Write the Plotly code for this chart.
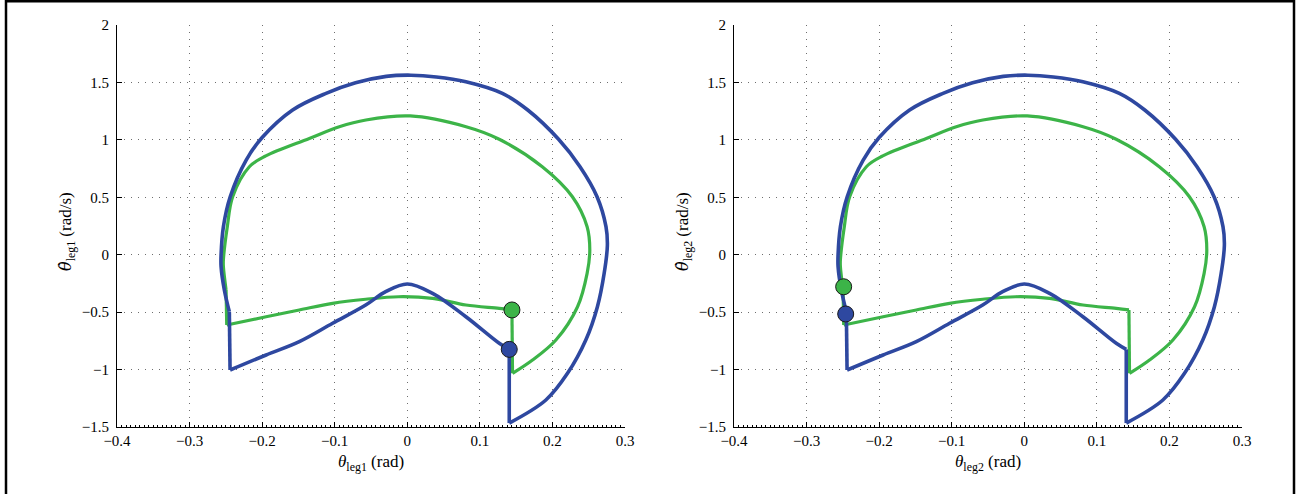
import plotly.graph_objects as go

# ---------------- data ----------------
# blue trajectory
blue_drop_x = [0.1405, 0.1405]
blue_drop_y = [-0.824, -1.466]
blue_loop_x = [0.1405, 0.191, 0.2208, 0.246, 0.262, 0.2713, 0.2757, 0.2738, 0.2615, 0.238,
               0.2085, 0.166, 0.131, 0.0808, 0.04, 0.005, -0.029, -0.0713, -0.112, -0.158,
               -0.2, -0.222, -0.244, -0.2534, -0.2566, -0.2566, -0.2521, -0.2452]
blue_loop_y = [-1.466, -1.265, -1.033, -0.743, -0.453, -0.162, 0.08, 0.244, 0.505, 0.766,
               1.005, 1.26, 1.405, 1.506, 1.548, 1.563, 1.553, 1.497, 1.405, 1.26,
               1.02, 0.824, 0.505, 0.244, 0.0, -0.104, -0.307, -0.496]
blue_side_x = [-0.2452, -0.2442]
blue_side_y = [-0.496, -1.004]
blue_ret_x = [-0.2442, -0.1945, -0.1488, -0.1029, -0.0573, -0.0298, 0.0, 0.0349, 0.0808, 0.1267, 0.1405]
blue_ret_y = [-1.004, -0.873, -0.757, -0.597, -0.438, -0.322, -0.255, -0.336, -0.54, -0.771, -0.824]

# green trajectory
green_drop_x = [0.1442, 0.145]
green_drop_y = [-0.481, -1.033]
green_loop_x = [0.145, 0.1726, 0.2048, 0.2346, 0.2478, 0.2515, 0.2478, 0.2275, 0.186, 0.1267,
                0.081, 0.004, -0.057, -0.0937, -0.135, -0.195, -0.2176, -0.2406, -0.248,
                -0.2534, -0.2534, -0.2497]
green_loop_y = [-1.033, -0.917, -0.743, -0.453, -0.162, 0.04, 0.244, 0.505, 0.766, 1.005,
                1.114, 1.208, 1.173, 1.114, 1.012, 0.86, 0.766, 0.505, 0.244,
                -0.046, -0.104, -0.307]
green_side_x = [-0.2497, -0.2488]
green_side_y = [-0.307, -0.612]
green_ret_x = [-0.2488, -0.1945, -0.1488, -0.1029, -0.0573, -0.012, 0.0349, 0.0808, 0.1267, 0.1442]
green_ret_y = [-0.612, -0.54, -0.481, -0.423, -0.388, -0.366, -0.38, -0.438, -0.467, -0.481]

# current-state markers: [leg1 plot, leg2 plot]
blue_marker_x = [0.1405, -0.2461]
blue_marker_y = [-0.824, -0.516]
green_marker_x = [0.1442, -0.2489]
green_marker_y = [-0.481, -0.279]

x_ticks = [-0.4, -0.3, -0.2, -0.1, 0, 0.1, 0.2, 0.3]
y_ticks = [-1.5, -1, -0.5, 0, 0.5, 1, 1.5, 2]
x_tick_text = ["\u22120.4", "\u22120.3", "\u22120.2", "\u22120.1", "0", "0.1", "0.2", "0.3"]
y_tick_text = ["\u22121.5", "\u22121", "\u22120.5", "0", "0.5", "1", "1.5", "2"]
leg_names = ["leg1", "leg2"]

# ---------------- styling ----------------
BLUE = "rgb(46,72,160)"
GREEN = "rgb(60,180,72)"
FONT = "Liberation Serif"
W, H = 1300, 494
ML, MR, MT, MB = 117, 58, 25, 67
PW, PH = W - ML - MR, H - MT - MB


def px2paper_x(px):
    return (px - ML) / PW


def px2paper_y(py):
    return (H - MB - py) / PH


fig = go.Figure()

segments = [
    (green_drop_x, green_drop_y, GREEN, "linear"),
    (green_loop_x, green_loop_y, GREEN, "spline"),
    (green_side_x, green_side_y, GREEN, "linear"),
    (green_ret_x, green_ret_y, GREEN, "spline"),
    (blue_drop_x, blue_drop_y, BLUE, "linear"),
    (blue_loop_x, blue_loop_y, BLUE, "spline"),
    (blue_side_x, blue_side_y, BLUE, "linear"),
    (blue_ret_x, blue_ret_y, BLUE, "spline"),
]

for i in range(2):
    xa = "x" if i == 0 else "x2"
    ya = "y" if i == 0 else "y2"
    for sx, sy, col, shape in segments:
        fig.add_trace(go.Scatter(x=sx, y=sy, mode="lines", xaxis=xa, yaxis=ya,
                                 line=dict(color=col, width=3.6 if col == BLUE else 3.2,
                                           shape=shape),
                                 showlegend=False, hoverinfo="skip"))
    fig.add_trace(go.Scatter(x=[green_marker_x[i]], y=[green_marker_y[i]], mode="markers",
                             xaxis=xa, yaxis=ya, showlegend=False,
                             marker=dict(size=16, color=GREEN, line=dict(color="#1a1a1a", width=1))))
    fig.add_trace(go.Scatter(x=[blue_marker_x[i]], y=[blue_marker_y[i]], mode="markers",
                             xaxis=xa, yaxis=ya, showlegend=False,
                             marker=dict(size=16, color=BLUE, line=dict(color="#1a1a1a", width=1))))

axis_common = dict(showline=True, linecolor="black", linewidth=1, mirror=False,
                   ticks="inside", ticklen=5, tickcolor="black", tickwidth=1,
                   showgrid=True, gridcolor="#6e6e6e", gridwidth=1, griddash="1px,6px",
                   zeroline=False, tickfont=dict(family=FONT, size=15, color="black"))

xdom = [[0, px2paper_x(625)], [px2paper_x(734), 1]]
layout = dict(
    width=W, height=H, margin=dict(l=ML, r=MR, t=MT, b=MB),
    paper_bgcolor="white", plot_bgcolor="white",
    showlegend=False, font=dict(family=FONT, color="black"),
)
for i in range(2):
    sfx = "" if i == 0 else "2"
    layout["xaxis" + sfx] = dict(axis_common, range=[-0.4, 0.3], domain=xdom[i],
                                 tickvals=x_ticks, ticktext=x_tick_text, anchor="y" + sfx,
                                 minor=dict(ticks="inside", ticklen=2.5, dtick=0.00625,
                                            tickcolor="black", showgrid=False))
    layout["yaxis" + sfx] = dict(axis_common, range=[-1.5, 2], domain=[0, 1],
                                 tickvals=y_ticks, ticktext=y_tick_text, anchor="x" + sfx,
                                 ticklabelstandoff=4)
fig.update_layout(**layout)

annotations = []
centers = [(117 + 625) / 2, (734 + 1242) / 2]
ytitle_x = [67, 684]
for i in range(2):
    annotations.append(dict(
        x=px2paper_x(centers[i]), y=px2paper_y(463), xref="paper", yref="paper",
        text="<i>\u03b8</i><sub>%s</sub> (rad)" % leg_names[i], showarrow=False,
        font=dict(family=FONT, size=17, color="black"), xanchor="center", yanchor="middle"))
    annotations.append(dict(
        x=px2paper_x(ytitle_x[i]), y=px2paper_y(232), xref="paper", yref="paper",
        text=("<span style='font-family:DejaVu Serif;font-size:16px'><i>\u03b8\u0307</i></span>"
              "<sub>%s</sub> (rad/s)" % leg_names[i]),
        showarrow=False, textangle=-90,
        font=dict(family=FONT, size=17, color="black"), xanchor="center", yanchor="middle"))
fig.update_layout(annotations=annotations)

# outer frame
fig.add_shape(type="rect", xref="paper", yref="paper",
              x0=px2paper_x(6), x1=px2paper_x(1294), y0=px2paper_y(600), y1=px2paper_y(1.2),
              line=dict(color="black", width=2.5), fillcolor="rgba(0,0,0,0)", layer="above")

fig.write_html("out.html")
